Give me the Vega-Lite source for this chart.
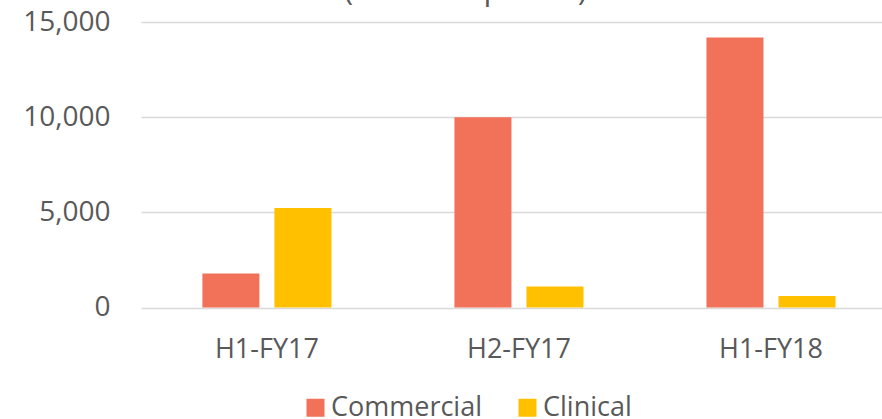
{
  "$schema": "https://vega.github.io/schema/vega-lite/v6.json",
  "autosize": "none",
  "width": 741,
  "height": 285.5,
  "padding": {"left": 141, "top": 22, "right": 0, "bottom": 111.5},
  "background": "white",
  "title": {
    "text": "(6 month period)",
    "font": "Open Sans",
    "fontSize": 31,
    "fontWeight": "normal",
    "color": "#595959",
    "anchor": "middle",
    "frame": "group",
    "baseline": "alphabetic",
    "dx": -46,
    "dy": 23,
    "offset": 0
  },
  "data": {
    "values": [
      {"period": "H1-FY17", "type": "Commercial", "value": 1790},
      {"period": "H1-FY17", "type": "Clinical", "value": 5230},
      {"period": "H2-FY17", "type": "Commercial", "value": 10000},
      {"period": "H2-FY17", "type": "Clinical", "value": 1100},
      {"period": "H1-FY18", "type": "Commercial", "value": 14180},
      {"period": "H1-FY18", "type": "Clinical", "value": 600}
    ]
  },
  "mark": {"type": "bar"},
  "encoding": {
    "x": {
      "field": "period",
      "type": "nominal",
      "sort": ["H1-FY17", "H2-FY17", "H1-FY18"],
      "scale": {"paddingInner": 0.488, "paddingOuter": 0.214, "align": 0.569},
      "axis": {
        "title": null,
        "labelAngle": 0,
        "labelFont": "Open Sans",
        "labelFontSize": 27,
        "labelColor": "#595959",
        "ticks": false,
        "domain": false,
        "labelPadding": 29
      }
    },
    "xOffset": {
      "field": "type",
      "type": "nominal",
      "sort": ["Commercial", "Clinical"],
      "scale": {"paddingInner": 0.2083, "paddingOuter": 0}
    },
    "y": {
      "field": "value",
      "type": "quantitative",
      "scale": {"domain": [0, 15000], "nice": false},
      "axis": {
        "title": null,
        "values": [0, 5000, 10000, 15000],
        "format": ",.0f",
        "labelFont": "Open Sans",
        "labelFontSize": 28,
        "labelColor": "#595959",
        "ticks": false,
        "domain": false,
        "labelPadding": 31,
        "gridColor": "#d9d9d9",
        "gridWidth": 1.5
      }
    },
    "color": {
      "field": "type",
      "type": "nominal",
      "sort": ["Commercial", "Clinical"],
      "scale": {"domain": ["Commercial", "Clinical"], "range": ["#F27159", "#FFC000"]},
      "legend": {
        "title": null,
        "orient": "none",
        "direction": "horizontal",
        "legendX": 161,
        "legendY": 372,
        "padding": 0,
        "symbolType": "square",
        "symbolSize": 324,
        "symbolStrokeWidth": 0,
        "symbolOpacity": 1,
        "labelFont": "Open Sans",
        "labelFontSize": 27,
        "labelColor": "#595959",
        "labelOffset": 2,
        "columnPadding": 31
      }
    }
  },
  "config": {"view": {"stroke": null}}
}
